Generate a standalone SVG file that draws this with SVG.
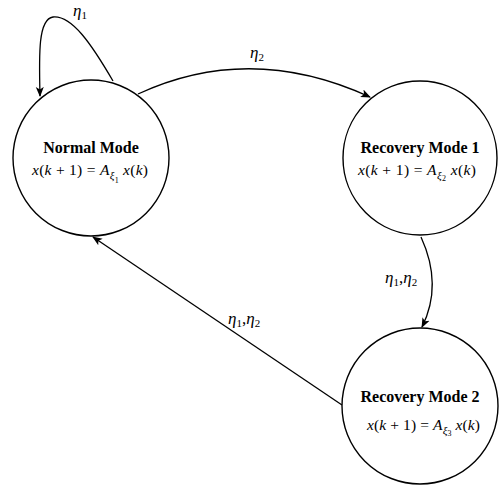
<svg xmlns="http://www.w3.org/2000/svg" width="500" height="486" viewBox="0 0 500 486">
<defs>
<style>
.node{fill:#fff;stroke:#000;stroke-width:1.4}
.edge{fill:none;stroke:#000;stroke-width:1.3}
.title{font-family:"Liberation Serif","Times New Roman",serif;font-weight:bold;font-size:16px;fill:#000}
.eq{font-family:"Liberation Serif","Times New Roman",serif;font-style:italic;font-size:15.5px;fill:#000}
.up{font-style:normal}
.sub{font-size:11px}
.sub2{font-size:8px;font-style:normal}
.lbl{font-family:"Liberation Serif","Times New Roman",serif;font-style:italic;font-size:17px;fill:#000}
.ls{font-size:11px;font-style:normal}
</style>
<marker id="arr" viewBox="0 0 10 10" refX="9" refY="5" markerWidth="10" markerHeight="10" markerUnits="userSpaceOnUse" orient="auto">
<path d="M0,1 L10,5 L0,9 L2.5,5 Z" fill="#000"/>
</marker>
</defs>
<g id="connectors">
<path class="edge" d="M113,81 C92,45 72,15 53,17 C38,19 39,55 40,96" marker-end="url(#arr)"/>
<path class="edge" d="M138,94 Q250,42 370,97" marker-end="url(#arr)"/>
<path class="edge" d="M421,237 Q443,285 422,327" marker-end="url(#arr)"/>
<path class="edge" d="M342,405 L93,237" marker-end="url(#arr)"/>
<text class="lbl" x="73" y="16">η<tspan class="ls" dy="3">1</tspan></text>
<text class="lbl" x="250" y="58">η<tspan class="ls" dy="3">2</tspan></text>
<text class="lbl" x="385" y="283">η<tspan class="ls" dy="3">1</tspan><tspan class="up" dy="-3">,</tspan>η<tspan class="ls" dy="3">2</tspan></text>
<text class="lbl" x="228" y="324">η<tspan class="ls" dy="3">1</tspan><tspan class="up" dy="-3">,</tspan>η<tspan class="ls" dy="3">2</tspan></text>
</g>
<g id="normal">
<circle class="node" cx="91" cy="158" r="78"/>
<text class="title" x="91" y="153" text-anchor="middle">Normal Mode</text>
<text class="eq" x="32" y="175" textLength="116" lengthAdjust="spacing">x<tspan class="up">(</tspan>k<tspan class="up"> + 1) = </tspan>A<tspan class="sub" dy="4">ξ</tspan><tspan class="sub2" dy="4">1</tspan><tspan dy="-8">  x</tspan><tspan class="up">(</tspan>k<tspan class="up">)</tspan></text>
</g>
<g id="recovery1">
<circle class="node" cx="420" cy="158" r="77"/>
<text class="title" x="420" y="153" text-anchor="middle">Recovery Mode 1</text>
<text class="eq" x="358" y="175" textLength="118" lengthAdjust="spacing">x<tspan class="up">(</tspan>k<tspan class="up"> + 1) = </tspan>A<tspan class="sub" dy="4">ξ</tspan><tspan class="sub2" dy="2">2</tspan><tspan dy="-6"> x</tspan><tspan class="up">(</tspan>k<tspan class="up">)</tspan></text>
</g>
<g id="recovery2">
<circle class="node" cx="420" cy="406" r="78"/>
<text class="title" x="420" y="402" text-anchor="middle">Recovery Mode 2</text>
<text class="eq" x="367" y="430" textLength="113" lengthAdjust="spacing">x<tspan class="up">(</tspan>k<tspan class="up"> + 1) = </tspan>A<tspan class="sub" dy="4">ξ</tspan><tspan class="sub2" dy="2">3</tspan><tspan dy="-6"> x</tspan><tspan class="up">(</tspan>k<tspan class="up">)</tspan></text>
</g>
</svg>
